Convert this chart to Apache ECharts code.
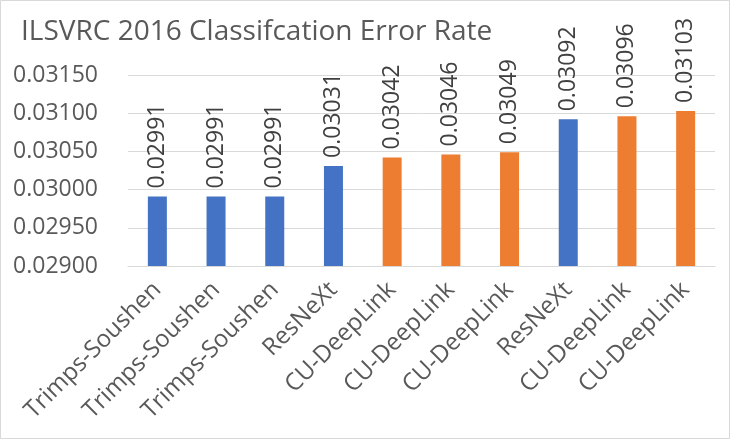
<!DOCTYPE html>
<html>
<head>
<meta charset="utf-8">
<script src="https://cdn.jsdelivr.net/npm/echarts@6/dist/echarts.min.js"></script>
<style>
html,body{margin:0;padding:0;background:#fff;}
#chart{width:730px;height:439px;}
</style>
</head>
<body>
<div id="chart"></div>
<script>
const title = 'ILSVRC 2016 Classifcation Error Rate';
const categories = ['Trimps-Soushen','Trimps-Soushen','Trimps-Soushen','ResNeXt','CU-DeepLink','CU-DeepLink','CU-DeepLink','ResNeXt','CU-DeepLink','CU-DeepLink'];
const errorRates = [0.02991,0.02991,0.02991,0.03031,0.03042,0.03046,0.03049,0.03092,0.03096,0.03103];
const yTicks = [0.02900,0.02950,0.03000,0.03050,0.03100,0.03150];

const teamColors = {'Trimps-Soushen':'#4472C4','ResNeXt':'#4472C4','CU-DeepLink':'#ED7D31'};
const FONT = '"Open Sans", "Noto Sans", sans-serif';

const chart = echarts.init(document.getElementById('chart'));
chart.setOption({
  animation:false,
  backgroundColor:'#fff',
  title:{
    text:title, left:16, top:13,
    textStyle:{fontFamily:FONT,fontSize:28,fontWeight:'normal',color:'#595959'}
  },
  graphic:[{type:'rect',shape:{x:0.5,y:0.5,width:729,height:438},style:{fill:'none',stroke:'#d9d9d9',lineWidth:1},silent:true}],
  grid:{left:128,right:15,top:75,bottom:173},
  xAxis:{
    type:'category',
    data:categories,
    axisTick:{show:false},
    axisLine:{lineStyle:{color:'#d9d9d9'}},
    axisLabel:{rotate:45,interval:0,margin:20,fontFamily:FONT,fontSize:24,color:'#595959'}
  },
  yAxis:{
    type:'value',
    min:yTicks[0], max:yTicks[yTicks.length-1], interval:0.0005,
    axisLine:{show:false}, axisTick:{show:false},
    splitLine:{lineStyle:{color:'#d9d9d9'}},
    axisLabel:{margin:30,fontFamily:FONT,fontSize:23,color:'#595959',formatter:v=>v.toFixed(5)}
  },
  series:[{
    type:'bar',
    barWidth:19,
    data:errorRates.map((v,i)=>({value:v,itemStyle:{color:teamColors[categories[i]]}})),
    label:{
      show:true, position:'top', rotate:90, align:'left', verticalAlign:'middle', distance:8,
      fontFamily:FONT, fontSize:23, color:'#404040',
      formatter:p=>p.value.toFixed(5)
    }
  }]
});
</script>
</body>
</html>
